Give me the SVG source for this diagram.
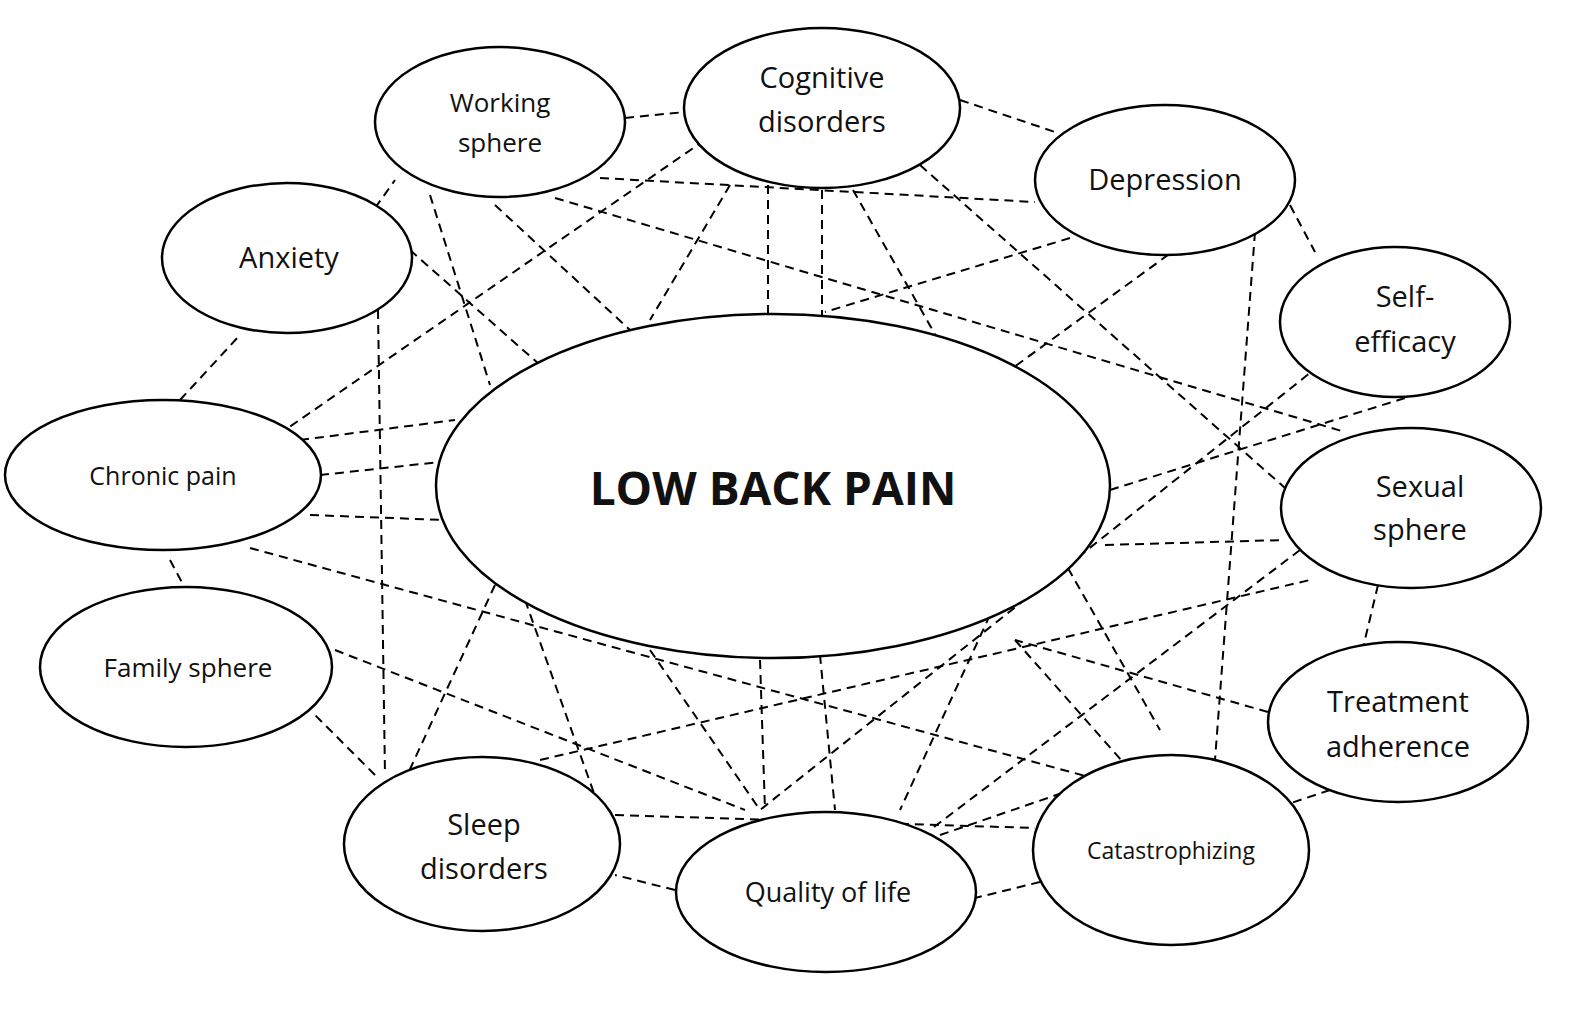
<svg xmlns="http://www.w3.org/2000/svg" width="1594" height="1012" viewBox="0 0 1594 1012">
<style>
ellipse{fill:#fff;stroke:#000;stroke-width:2.5}
#connectors line{stroke:#000;stroke-width:2;stroke-dasharray:9 6}
text{font-family:"Open Sans","Liberation Sans",sans-serif;font-size:29px;text-anchor:middle;fill:#111}
</style>
<rect width="1594" height="1012" fill="#fff"/>
<g id="connectors">
<line x1="625" y1="118" x2="685" y2="112"/>
<line x1="960" y1="100" x2="1055" y2="132"/>
<line x1="1290" y1="205" x2="1315" y2="252"/>
<line x1="1378" y1="585" x2="1362" y2="652"/>
<line x1="1330" y1="790" x2="1285" y2="805"/>
<line x1="1040" y1="882" x2="975" y2="898"/>
<line x1="675" y1="890" x2="615" y2="875"/>
<line x1="375" y1="775" x2="315" y2="715"/>
<line x1="170" y1="560" x2="185" y2="588"/>
<line x1="180" y1="400" x2="240" y2="335"/>
<line x1="375" y1="208" x2="395" y2="180"/>
<line x1="600" y1="178" x2="1035" y2="202"/>
<line x1="555" y1="198" x2="1345" y2="432"/>
<line x1="430" y1="195" x2="490" y2="385"/>
<line x1="495" y1="205" x2="630" y2="330"/>
<line x1="705" y1="140" x2="285" y2="430"/>
<line x1="768" y1="185" x2="768" y2="315"/>
<line x1="822" y1="190" x2="822" y2="315"/>
<line x1="853" y1="190" x2="1160" y2="730"/>
<line x1="920" y1="165" x2="1285" y2="488"/>
<line x1="730" y1="185" x2="650" y2="320"/>
<line x1="1070" y1="238" x2="825" y2="312"/>
<line x1="1205" y1="228" x2="1010" y2="370"/>
<line x1="1255" y1="232" x2="1215" y2="760"/>
<line x1="410" y1="250" x2="540" y2="365"/>
<line x1="378" y1="310" x2="385" y2="775"/>
<line x1="1320" y1="365" x2="760" y2="810"/>
<line x1="1405" y1="398" x2="1110" y2="490"/>
<line x1="320" y1="475" x2="440" y2="462"/>
<line x1="300" y1="440" x2="455" y2="420"/>
<line x1="310" y1="515" x2="445" y2="520"/>
<line x1="250" y1="548" x2="1100" y2="780"/>
<line x1="1105" y1="545" x2="1285" y2="540"/>
<line x1="335" y1="650" x2="745" y2="810"/>
<line x1="1300" y1="550" x2="930" y2="830"/>
<line x1="540" y1="760" x2="1310" y2="580"/>
<line x1="1268" y1="712" x2="1015" y2="640"/>
<line x1="495" y1="585" x2="405" y2="780"/>
<line x1="525" y1="600" x2="600" y2="810"/>
<line x1="650" y1="650" x2="760" y2="810"/>
<line x1="760" y1="660" x2="765" y2="810"/>
<line x1="820" y1="655" x2="835" y2="810"/>
<line x1="990" y1="615" x2="900" y2="810"/>
<line x1="1015" y1="640" x2="1130" y2="770"/>
<line x1="615" y1="815" x2="1035" y2="828"/>
<line x1="940" y1="835" x2="1100" y2="780"/>
</g>
<g id="lbp"><ellipse cx="773" cy="486" rx="337" ry="172"/><text x="773" y="505" style="font-size:46px;font-weight:bold">LOW BACK PAIN</text></g>
<g id="working"><ellipse cx="500" cy="122" rx="125" ry="75"/><text x="500" y="112" style="font-size:26px">Working</text><text x="500" y="152" style="font-size:26px">sphere</text></g>
<g id="cognitive"><ellipse cx="822" cy="108" rx="138" ry="80"/><text x="822" y="88">Cognitive</text><text x="822" y="132">disorders</text></g>
<g id="depression"><ellipse cx="1165" cy="180" rx="130" ry="75"/><text x="1165" y="190">Depression</text></g>
<g id="anxiety"><ellipse cx="287" cy="258" rx="125" ry="75"/><text x="289" y="268">Anxiety</text></g>
<g id="selfefficacy"><ellipse cx="1395" cy="322" rx="115" ry="75"/><text x="1405" y="307">Self-</text><text x="1405" y="352">efficacy</text></g>
<g id="chronic"><ellipse cx="163" cy="475" rx="158" ry="75"/><text x="163" y="485" style="font-size:25px">Chronic pain</text></g>
<g id="sexual"><ellipse cx="1411" cy="508" rx="130" ry="80"/><text x="1420" y="497">Sexual</text><text x="1420" y="540">sphere</text></g>
<g id="family"><ellipse cx="186" cy="667" rx="146" ry="80"/><text x="188" y="677" style="font-size:26px">Family sphere</text></g>
<g id="treatment"><ellipse cx="1398" cy="722" rx="130" ry="80"/><text x="1398" y="712">Treatment</text><text x="1398" y="757">adherence</text></g>
<g id="sleep"><ellipse cx="482" cy="844" rx="138" ry="87"/><text x="484" y="835">Sleep</text><text x="484" y="879">disorders</text></g>
<g id="quality"><ellipse cx="826" cy="892" rx="150" ry="80"/><text x="828" y="902" style="font-size:27px">Quality of life</text></g>
<g id="catastrophizing"><ellipse cx="1171" cy="850" rx="138" ry="95"/><text x="1171" y="859" style="font-size:23px">Catastrophizing</text></g>
</svg>
